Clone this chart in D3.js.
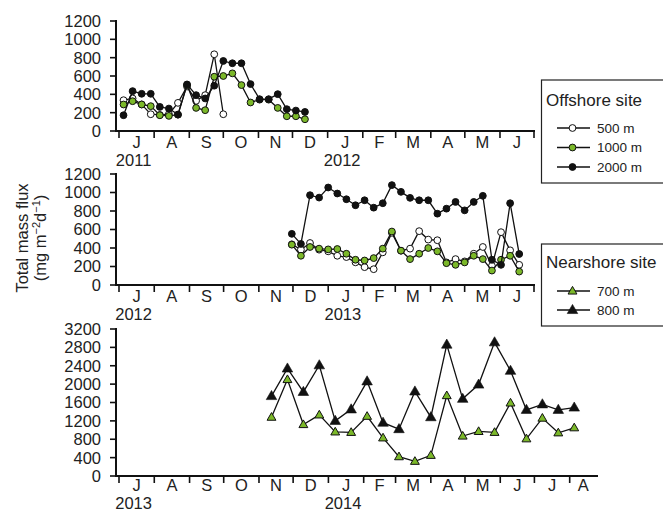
<!DOCTYPE html>
<html>
<head>
<meta charset="utf-8">
<script src="https://cdn.jsdelivr.net/npm/d3@7"></script>
<style>
  body { margin: 0; background: #fff; }
  text { font-family: "Liberation Sans", Arial, sans-serif; fill: #222; }
</style>
</head>
<body>
<script>
var width = 663
var height = 513

// offshore site, 2011
var dates2011 = ['2011-07-05','2011-07-13','2011-07-21','2011-07-29','2011-08-06','2011-08-14','2011-08-22',
  '2011-08-30','2011-09-07','2011-09-15','2011-09-23','2011-10-01','2011-10-09','2011-10-17','2011-10-25',
  '2011-11-02','2011-11-10','2011-11-18','2011-11-26','2011-12-04','2011-12-12']
var off500_2011 = [336, 355, 290, 183, 175, 185, 307, 485, 329, 391, 837, 183]
var off1000_2011 = [289, 325, 289, 271, 172, 165, 178, 501, 252, 227, 592, 600, 629, 501, 311, 342, 342, 252, 161, 161, 128]
var off2000_2011 = [172, 435, 406, 406, 263, 245, 179, 508, 391, 355, 494, 764, 739, 739, 512, 347, 347, 402, 238, 223, 208]

// offshore site, 2012-13
var dates2012 = ['2012-11-30','2012-12-08','2012-12-16','2012-12-24','2013-01-01','2013-01-09','2013-01-17',
  '2013-01-25','2013-02-02','2013-02-10','2013-02-18','2013-02-26','2013-03-06','2013-03-14','2013-03-22',
  '2013-03-30','2013-04-07','2013-04-15','2013-04-23','2013-05-01','2013-05-09','2013-05-17','2013-05-25',
  '2013-06-02','2013-06-10','2013-06-18']
var off500_2012 = [440, 382, 454, 382, 364, 316, 302, 245, 193, 171, 353, 564, 371, 393, 582, 491, 484,
  244, 280, 255, 338, 411, 207, 571, 375, 218]
var off1000_2012 = [436, 316, 411, 393, 385, 389, 338, 273, 265, 291, 393, 578, 371, 280, 338, 400, 364,
  236, 218, 244, 316, 280, 156, 273, 316, 145]
var off2000_2012 = [553, 444, 971, 945, 1054, 989, 927, 862, 916, 836, 884, 1080, 1007, 942, 916, 916, 771,
  825, 898, 807, 898, 964, 273, 218, 884, 335]

// nearshore site, 2013-14
var dates2013 = ['2013-11-12','2013-11-26','2013-12-10','2013-12-24','2014-01-07','2014-01-21','2014-02-04',
  '2014-02-18','2014-03-04','2014-03-18','2014-04-01','2014-04-15','2014-04-29','2014-05-13','2014-05-27',
  '2014-06-10','2014-06-24','2014-07-08','2014-07-22','2014-08-05']
var near700 = [1280, 2100, 1120, 1330, 960, 950, 1300, 830, 420, 320, 450, 1750, 870, 970, 950, 1590, 810, 1260, 940, 1050]
var near800 = [1740, 2340, 1830, 2410, 1200, 1450, 2060, 1160, 1020, 1840, 1280, 2860, 1680, 1990, 2910, 2290, 1440, 1560, 1440, 1490]

var ticksSmall = [0, 200, 400, 600, 800, 1000, 1200]
var ticksBig = [0, 400, 800, 1200, 1600, 2000, 2400, 2800, 3200]
var monthLetters = ['J','F','M','A','M','J','J','A','S','O','N','D']

var parse = d3.timeParse('%Y-%m-%d')
var green = '#7bb829'

var svg = d3.select('body')
      .append('svg')
      .attr('width', width)
      .attr('height', height)

var panels = [
  { start: '2011-07-01', end: '2012-07-01', x1: 534, y0: 131, y1: 21, max: 1200, ticks: ticksSmall, endTick: true, monthDy: 17, yearDy: 35 },
  { start: '2012-07-01', end: '2013-07-01', x1: 534, y0: 285, y1: 174, max: 1200, ticks: ticksSmall, endTick: true, monthDy: 17, yearDy: 35 },
  { start: '2013-07-01', end: '2014-08-25', x1: 597, y0: 476, y1: 329, max: 3200, ticks: ticksBig, endTick: false, monthDy: 14.5, yearDy: 33 }
]

panels.forEach(function(p) {
  p.x = d3.scaleTime().domain([parse(p.start), parse(p.end)]).range([119, p.x1])
  p.y = d3.scaleLinear().domain([0, p.max]).range([p.y0, p.y1])
  var g = svg.append('g')

  // y axis
  g.append('line').attr('x1', 116).attr('x2', 116).attr('y1', p.y1 - 1).attr('y2', p.y0 + 1)
    .attr('stroke', '#111').attr('stroke-width', 2)
  g.selectAll('.yt').data(p.ticks).enter().append('line')
    .attr('x1', 110).attr('x2', 116)
    .attr('y1', function(d) { return p.y(d) }).attr('y2', function(d) { return p.y(d) })
    .attr('stroke', '#111').attr('stroke-width', 1.6)
  g.selectAll('.yl').data(p.ticks).enter().append('text')
    .attr('x', 101).attr('y', function(d) { return p.y(d) })
    .attr('dy', '0.36em').attr('text-anchor', 'end')
    .style('font-size', '16.5px')
    .text(function(d) { return d })

  // x axis
  g.append('line').attr('x1', 115).attr('x2', p.x1 + 1).attr('y1', p.y0).attr('y2', p.y0)
    .attr('stroke', '#111').attr('stroke-width', 2)
  var months = d3.timeMonth.range(parse(p.start), d3.timeDay.offset(parse(p.end), 1))
  var tickMonths = months.filter(function(m) { return p.endTick || m < parse(p.end) })
  g.selectAll('.xt').data(tickMonths).enter().append('line')
    .attr('x1', function(d) { return p.x(d) }).attr('x2', function(d) { return p.x(d) })
    .attr('y1', p.y0).attr('y2', p.y0 + 7)
    .attr('stroke', '#111').attr('stroke-width', 1.6)
  var labelMonths = months.filter(function(m) { return m < parse(p.end) })
  g.selectAll('.xl').data(labelMonths).enter().append('text')
    .attr('x', function(d) {
      var e = d3.min([d3.timeMonth.offset(d, 1), parse(p.end)])
      return (p.x(d) + p.x(e)) / 2
    })
    .attr('y', p.y0 + p.monthDy)
    .attr('text-anchor', 'middle')
    .style('font-size', '16.5px')
    .text(function(d) { return monthLetters[d.getMonth()] })

  // year under the first July and under each January
  var yearMonths = labelMonths.filter(function(d, i) { return i == 0 || d.getMonth() == 0 })
  g.selectAll('.yr').data(yearMonths).enter().append('text')
    .attr('x', function(d) { return (p.x(d) + p.x(d3.timeMonth.offset(d, 1))) / 2 - 3 })
    .attr('y', p.y0 + p.yearDy)
    .attr('text-anchor', 'middle')
    .style('font-size', '16.5px')
    .text(function(d) { return d.getFullYear() })
})

function drawSeries(p, dates, values, marker, fill) {
  var pts = values.map(function(v, i) { return { date: parse(dates[i]), value: v } })
  var line = d3.line()
    .x(function(d) { return p.x(d.date) })
    .y(function(d) { return p.y(d.value) })
  svg.append('path').datum(pts)
    .attr('d', line)
    .attr('fill', 'none')
    .attr('stroke', '#111')
    .attr('stroke-width', 1.3)
  if (marker == 'circle') {
    svg.selectAll(null).data(pts).enter().append('circle')
      .attr('cx', function(d) { return p.x(d.date) })
      .attr('cy', function(d) { return p.y(d.value) })
      .attr('r', 3.4)
      .attr('fill', fill)
      .attr('stroke', '#111')
      .attr('stroke-width', 1)
  } else {
    var big = fill == '#111'
    svg.selectAll(null).data(pts).enter().append('path')
      .attr('d', d3.symbol().type(d3.symbolTriangle).size(big ? 48 : 34))
      .attr('transform', function(d) { return 'translate(' + p.x(d.date) + ',' + (p.y(d.value) + 0.5) + ')' })
      .attr('fill', fill)
      .attr('stroke', '#111')
      .attr('stroke-width', big ? 0.6 : 1)
  }
}

drawSeries(panels[0], dates2011, off500_2011, 'circle', '#fff')
drawSeries(panels[0], dates2011, off1000_2011, 'circle', green)
drawSeries(panels[0], dates2011, off2000_2011, 'circle', '#111')

drawSeries(panels[1], dates2012, off500_2012, 'circle', '#fff')
drawSeries(panels[1], dates2012, off1000_2012, 'circle', green)
drawSeries(panels[1], dates2012, off2000_2012, 'circle', '#111')

drawSeries(panels[2], dates2013, near800, 'triangle', '#111')
drawSeries(panels[2], dates2013, near700, 'triangle', green)

// y title
svg.append('text')
  .attr('transform', 'translate(28,238) rotate(-90)')
  .attr('text-anchor', 'middle')
  .style('font-size', '16.5px')
  .text('Total mass flux')
var yt2 = svg.append('text')
  .attr('transform', 'translate(46,238) rotate(-90)')
  .attr('text-anchor', 'middle')
  .style('font-size', '16.5px')
yt2.append('tspan').text('(mg m')
yt2.append('tspan').attr('dy', -6).style('font-size', '11px').text('\u22122')
yt2.append('tspan').attr('dy', 6).text('d')
yt2.append('tspan').attr('dy', -6).style('font-size', '11px').text('\u22121')
yt2.append('tspan').attr('dy', 6).text(')')

// legends
var legends = [
  { title: 'Offshore site', top: 80, bottom: 183, titleY: 100,
    items: [ { name: '500 m', marker: 'circle', fill: '#fff', y: 128 },
             { name: '1000 m', marker: 'circle', fill: green, y: 147.5 },
             { name: '2000 m', marker: 'circle', fill: '#111', y: 167 } ] },
  { title: 'Nearshore site', top: 244, bottom: 326, titleY: 262,
    items: [ { name: '700 m', marker: 'triangle', fill: green, y: 291 },
             { name: '800 m', marker: 'triangle', fill: '#111', y: 310 } ] }
]

legends.forEach(function(l) {
  var g = svg.append('g')
  g.append('rect')
    .attr('x', 541.5).attr('y', l.top)
    .attr('width', 140).attr('height', l.bottom - l.top)
    .attr('fill', '#fff').attr('stroke', '#222').attr('stroke-width', 1.2)
  g.append('text').attr('x', 546).attr('y', l.titleY).attr('dy', '0.36em')
    .style('font-size', '17px').text(l.title)
  l.items.forEach(function(it) {
    g.append('line').attr('x1', 557).attr('x2', 590).attr('y1', it.y).attr('y2', it.y)
      .attr('stroke', '#111').attr('stroke-width', 1.3)
    if (it.marker == 'circle') {
      g.append('circle').attr('cx', 572.5).attr('cy', it.y).attr('r', 3.4)
        .attr('fill', it.fill).attr('stroke', '#111').attr('stroke-width', 1)
    } else {
      var big = it.fill == '#111'
      g.append('path')
        .attr('d', d3.symbol().type(d3.symbolTriangle).size(big ? 48 : 34))
        .attr('transform', 'translate(572.5,' + (it.y + 0.5) + ')')
        .attr('fill', it.fill).attr('stroke', '#111').attr('stroke-width', big ? 0.6 : 1)
    }
    g.append('text').attr('x', 597).attr('y', it.y).attr('dy', '0.36em')
      .style('font-size', '13.5px').text(it.name)
  })
})
</script>
</body>
</html>
